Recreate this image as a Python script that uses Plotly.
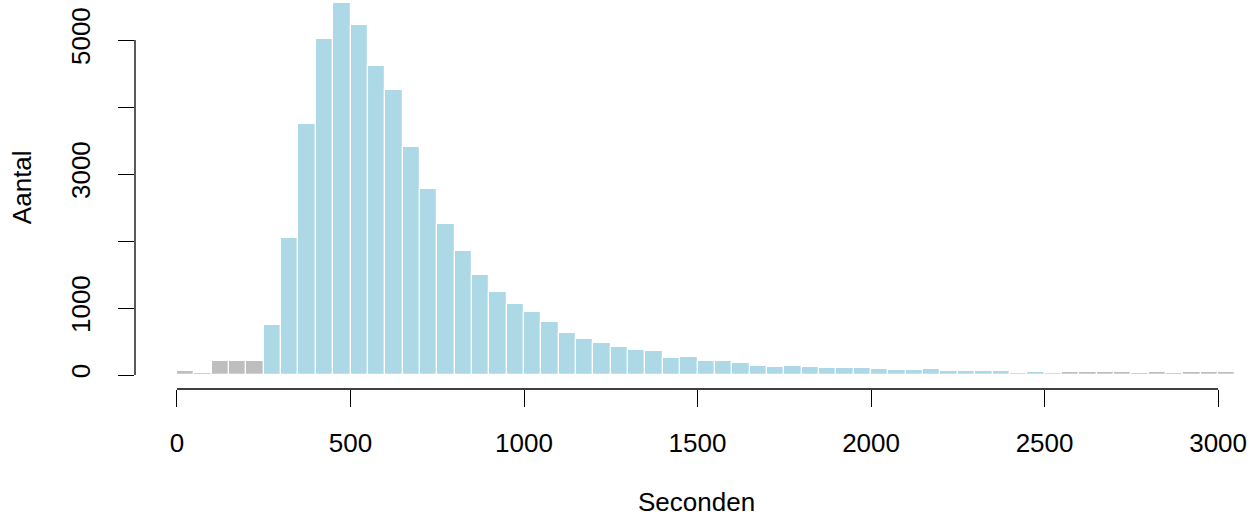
import plotly.graph_objects as go

# ---- data ----
bin_width = 50
bin_left = list(range(0, 3100, 50))  # 62 bins: 0-50 ... 3050-3100
counts = [65, 32, 205, 215, 215, 750, 2040, 3740, 5010, 5548,
          5220, 4612, 4250, 3408, 2776, 2254, 1850, 1497, 1243, 1064,
          940, 786, 622, 533, 473, 413, 378, 354, 259, 264,
          204, 204, 179, 139, 119, 134, 115, 104, 104, 100,
          90, 72, 72, 90, 62, 60, 60, 60, 35, 40,
          35, 48, 40, 38, 40, 30, 38, 25, 38, 40,
          42, 12]
low_cut = 250     # bins below this are grey
high_cut = 2550   # bins from this on are grey
x_ticks = [0, 500, 1000, 1500, 2000, 2500, 3000]
y_ticks = [0, 1000, 2000, 3000, 4000, 5000]
y_ticktext = ["0", "1000", "", "3000", "", "5000"]
x_title = "Seconden"
y_title = "Aantal"

BLUE = "#ADD8E6"
GREY = "#BEBEBE"
FONT = "Liberation Sans, Arial, Helvetica, sans-serif"
FS = 26

centers = [b + bin_width / 2 for b in bin_left]
colors = [GREY if (b < low_cut or b >= high_cut) else BLUE for b in bin_left]

fig = go.Figure()
fig.add_trace(go.Bar(
    x=centers, y=counts, width=[bin_width] * len(centers),
    marker=dict(color=colors, line=dict(color="white", width=1.2)),
    showlegend=False, hoverinfo="x+y",
))

# R-style axis lines that only span the tick range
fig.add_shape(type="line", xref="x", yref="paper", x0=x_ticks[0], x1=x_ticks[-1],
              y0=0, y1=0, line=dict(color="black", width=1.3))
fig.add_shape(type="line", xref="paper", yref="y", x0=0, x1=0,
              y0=y_ticks[0], y1=y_ticks[-1], line=dict(color="black", width=1.3))

fig.add_annotation(text=x_title, xref="paper", yref="paper", x=0.5, y=-0.29,
                   showarrow=False, font=dict(family=FONT, size=FS, color="black"),
                   xanchor="center", yanchor="middle")
fig.add_annotation(text=y_title, xref="paper", yref="paper", x=-0.1006, y=0.519,
                   showarrow=False, textangle=-90,
                   font=dict(family=FONT, size=FS, color="black"),
                   xanchor="center", yanchor="middle")

fig.update_layout(
    width=1258, height=517,
    margin=dict(l=135, r=0, t=0, b=128),
    paper_bgcolor="white", plot_bgcolor="white",
    bargap=0,
    font=dict(family=FONT, size=FS, color="black"),
    xaxis=dict(range=[-121, 3115], tickvals=x_ticks, ticks="outside", ticklen=17,
               tickwidth=1.3, tickcolor="black", showline=False, showgrid=False,
               zeroline=False, ticklabelstandoff=14,
               tickfont=dict(family=FONT, size=FS, color="black")),
    yaxis=dict(range=[-209, 5597], tickvals=y_ticks, ticktext=y_ticktext,
               tickangle=-90, ticks="outside", ticklen=16, tickwidth=1.3,
               tickcolor="black", showline=False, showgrid=False, zeroline=False,
               ticklabelstandoff=18,
               tickfont=dict(family=FONT, size=FS, color="black")),
)

fig.write_html("out.html")
